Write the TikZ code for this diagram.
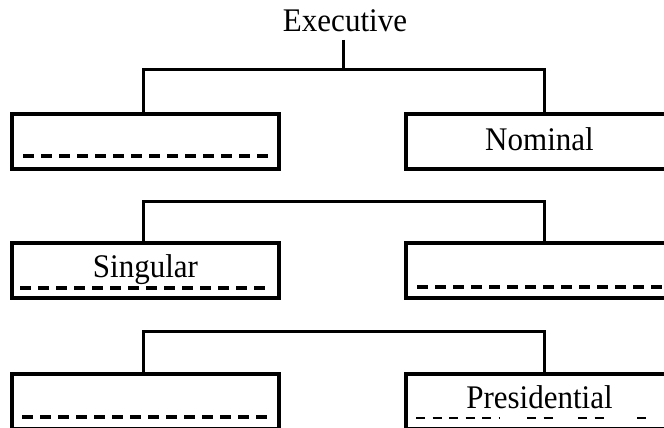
\documentclass[tikz,border=0pt]{standalone}
\usepackage{fontspec}
\setmainfont[FakeStretch=0.94]{Liberation Serif}
\begin{document}
\begin{tikzpicture}[x=1pt,y=-1pt,
  box/.style={draw,line width=3.5pt,minimum width=267pt,minimum height=55pt,inner sep=0pt,outer sep=0pt},
  lbl/.style={inner sep=0pt,anchor=base,font=\fontsize{33}{38}\selectfont},
  conn/.style={line width=3pt},
  dline/.style={line width=3.2pt,dash pattern=on 11pt off 7pt},
  dthick/.style={line width=4.2pt,dash pattern=on 11pt off 7pt},
  dthin/.style={line width=1.6pt,dash pattern=on 9pt off 7.5pt}]
\useasboundingbox (0,0) rectangle (664,428);
\clip (0,0) rectangle (664,428);
% title
\node[lbl] (exec) at (345,32) {Executive};
\coordinate (j1) at (343,70);
\coordinate (j2) at (343,201);
\coordinate (j3) at (343,331);
% boxes
\node[box] (b1l) at (145.5,141.5) {};
\node[box] (b1r) at (539.5,141.5) {};
\node[box] (b2l) at (145.5,270.5) {};
\node[box] (b2r) at (539.5,270.5) {};
\node[box] (b3l) at (145.5,401.5) {};
\node[box] (b3r) at (539.5,401.5) {};
% labels
\node[lbl] (nom) at ([yshift=-8.5pt]b1r.center) {Nominal};
\node[lbl] (sing) at ([yshift=-6.5pt]b2l.center) {Singular};
\node[lbl] (pres) at ([yshift=-6.5pt]b3r.center) {Presidential};
% connectors
\draw[conn] ([yshift=-8pt]exec.base -| j1) -- (j1);
\draw[conn] ([xshift=-2.5pt]b1l.north) |- (j1) -| ([xshift=4.5pt]b1r.north);
\draw[conn] ([xshift=-2.5pt]b2l.north) |- (j2) -| ([xshift=4.5pt]b2r.north);
\draw[conn] ([xshift=-2.5pt]b3l.north) |- (j3) -| ([xshift=4.5pt]b3r.north);
% dashed lines
\draw[dline] (23,156) -- (272,156);
\draw[dthick] (20,288) -- (272,288);
\draw[dline] (417,287) -- (670,287);
\draw[dline] (22,417) -- (272,417);
\draw[dthin] (416,418) -- (500,418);
\draw[dthin] (527,418) -- (556,418);
\draw[dthin] (578,418) -- (610,418);
\draw[dthin] (637,418) -- (647,418);
\end{tikzpicture}
\end{document}
